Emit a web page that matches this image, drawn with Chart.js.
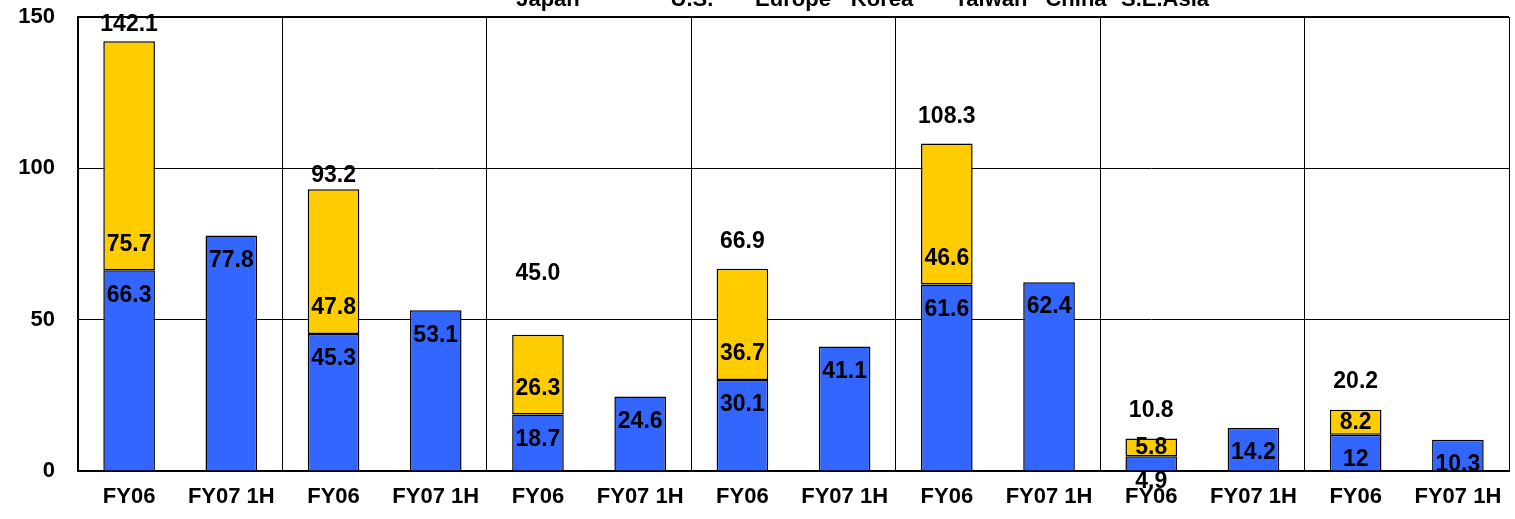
<!DOCTYPE html>
<html>
<head>
<meta charset="utf-8">
<script src="https://cdn.jsdelivr.net/npm/chart.js@4/dist/chart.umd.min.js"></script>
<style>
    html, body { margin: 0; padding: 0; background: #fff; }
    #wrap { width: 1515px; height: 519px; }
</style>
</head>
<body>
<div id="wrap"><canvas id="grafica" width="1515" height="519"></canvas></div>
<script>
// Datos
const regiones = ['Japan', 'U.S.', 'Europe', 'Korea', 'Taiwan', 'China', 'S.E.Asia'];
const periodos = ['FY06', 'FY07 1H'];
const fy06Base = [66.3, 45.3, 18.7, 30.1, 61.6, 4.9, 12];
const fy06Extra = [75.7, 47.8, 26.3, 36.7, 46.6, 5.8, 8.2];
const fy06Total = [142.1, 93.2, 45.0, 66.9, 108.3, 10.8, 20.2];
const fy07Base = [77.8, 53.1, 24.6, 41.1, 62.4, 14.2, 10.3];
const yTicks = [0, 50, 100, 150];

const FUENTE = '"Liberation Sans", Arial, sans-serif';
const AZUL = '#3366FF';
const AMARILLO = '#FFCC00';

// etiquetas y series intercaladas (FY06, FY07 1H por región)
const categorias = [];
const serieAzul = [];
const serieAmarilla = [];
regiones.forEach((r, i) => {
    categorias.push(periodos[0], periodos[1]);
    serieAzul.push(fy06Base[i], fy07Base[i]);
    serieAmarilla.push(fy06Extra[i], null);
});

const etiquetasPlugin = {
    id: 'etiquetas',
    afterDatasetsDraw(chart, args, opts) {
        const ctx = chart.ctx;
        const azul = chart.getDatasetMeta(0).data;
        const amarillo = chart.getDatasetMeta(1).data;
        ctx.save();
        ctx.font = 'bold 23px ' + FUENTE;
        ctx.fillStyle = '#000';
        ctx.textAlign = 'center';
        ctx.textBaseline = 'middle';

        azul.forEach((bar, i) => {
            const v = serieAzul[i];
            if (v == null) return;
            ctx.fillText(String(v), bar.x, bar.y + 25);
        });

        amarillo.forEach((bar, i) => {
            const v = serieAmarilla[i];
            if (v == null) return;
            let y = bar.base - 26;
            if (bar.base - bar.y < 52) y = (bar.y + bar.base) / 2;
            ctx.fillText(String(v), bar.x, y);
        });

        // totales FY06 encima de la barra
        fy06Total.forEach((t, k) => {
            const bar = amarillo[k * 2];
            ctx.fillText(t.toFixed(1), bar.x, bar.y - opts.subida[k]);
        });

        // cabecera de regiones (cortada arriba)
        ctx.font = 'bold 22px ' + FUENTE;
        ctx.textBaseline = 'alphabetic';
        regiones.forEach((r, k) => {
            ctx.fillText(r, opts.cabeceraX[k], 6);
        });
        ctx.restore();
    }
};

new Chart(document.getElementById('grafica').getContext('2d'), {
    type: 'bar',
    data: {
        labels: categorias,
        datasets: [
            {
                label: 'base',
                data: serieAzul,
                backgroundColor: AZUL,
                borderColor: '#000',
                borderWidth: 1.5,
                borderSkipped: 'start'
            },
            {
                label: 'extra',
                data: serieAmarilla,
                backgroundColor: AMARILLO,
                borderColor: '#000',
                borderWidth: 1.5,
                borderSkipped: false
            }
        ]
    },
    options: {
        responsive: false,
        animation: false,
        categoryPercentage: 1,
        barPercentage: 0.505,
        layout: { padding: { top: 17, right: 6, left: 0, bottom: 0 } },
        plugins: {
            legend: { display: false },
            tooltip: { enabled: false },
            etiquetas: {
                subida: [17, 14, 61, 27, 27, 28, 28],
                cabeceraX: [548, 692, 793, 882, 991, 1076, 1165]
            }
        },
        scales: {
            x: {
                stacked: true,
                offset: true,
                grid: {
                    offset: true,
                    drawTicks: false,
                    lineWidth: 1,
                    color: c => (c.type !== 'tick' || c.index % 2 === 0) ? '#000' : 'rgba(0,0,0,0)'
                },
                border: { display: true, color: '#000', width: 2 },
                ticks: {
                    color: '#000',
                    padding: 13,
                    maxRotation: 0,
                    autoSkip: false,
                    font: { family: FUENTE, size: 22, weight: 'bold' }
                },
                afterFit: s => {
                    s.height = 48;
                    s.paddingLeft = 0;
                    s.paddingRight = 0;
                }
            },
            y: {
                stacked: true,
                min: 0,
                max: 150,
                afterBuildTicks: s => { s.ticks = yTicks.map(v => ({ value: v })); },
                grid: {
                    drawTicks: false,
                    color: '#000',
                    lineWidth: c => (c.tick && c.tick.value === 150) ? 2 : 1
                },
                border: { display: true, color: '#000', width: 2 },
                ticks: {
                    color: '#000',
                    padding: 23,
                    font: { family: FUENTE, size: 22, weight: 'bold' }
                },
                afterFit: s => {
                    s.width = 78;
                    s.paddingTop = 0;
                    s.paddingBottom = 0;
                }
            }
        }
    },
    plugins: [etiquetasPlugin]
});
</script>
</body>
</html>
